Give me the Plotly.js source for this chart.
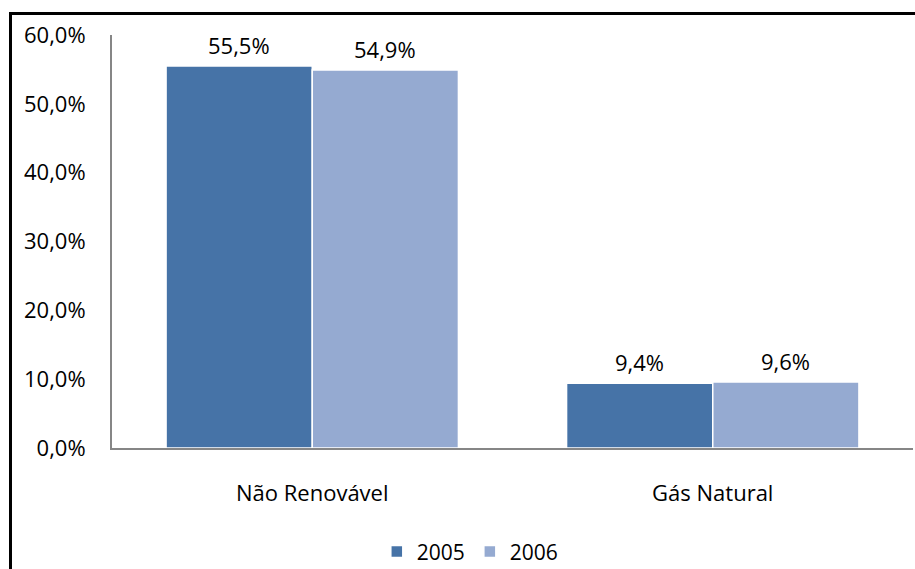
<!DOCTYPE html>
<html>
<head>
<meta charset="utf-8">
<script src="https://cdn.plot.ly/plotly-3.0.1.min.js"></script>
<style>
html,body{margin:0;padding:0;background:#fff;}
#wrap{position:relative;width:915px;height:569px;overflow:hidden;}
#chart{position:absolute;left:0;top:0;width:915px;height:569px;}
#frame{position:absolute;left:9px;top:12px;width:920px;height:570px;border-left:3px solid #000;border-top:3px solid #000;pointer-events:none;}
</style>
</head>
<body>
<div id="wrap"><div id="chart"></div><div id="frame"></div></div>
<script>
const categories = ['Não Renovável', 'Gás Natural'];
const values2005 = [55.5, 9.4];
const values2006 = [54.9, 9.6];
const seriesNames = ['2005', '2006'];
const yTickVals = [0, 10, 20, 30, 40, 50, 60];

const fmt = v => v.toFixed(1).replace('.', ',') + '%';
const font = {family: 'Open Sans, DejaVu Sans, sans-serif', size: 22, color: '#000'};
const legendFont = {family: 'Open Sans, DejaVu Sans, sans-serif', size: 21, color: '#000'};
const colors = ['#4673A7', '#95AAD1'];
const seriesValues = [values2005, values2006];

const traces = seriesValues.map((vals, i) => ({
  type: 'bar', name: seriesNames[i], x: categories, y: vals,
  marker: {color: colors[i], line: {color: '#fff', width: 1.5}},
  hoverinfo: 'none'
}));

const annotations = [];
seriesValues.forEach((vals, i) => {
  vals.forEach((v, j) => {
    annotations.push({x: categories[j], y: v, xref: 'x', yref: 'y',
      text: fmt(v), showarrow: false, font: font,
      xshift: i === 0 ? -73 : 73, yshift: 21, yanchor: 'middle'});
  });
});

const layout = {
  width: 915, height: 569,
  margin: {l: 112, r: 2, t: 35, b: 121},
  paper_bgcolor: '#fff', plot_bgcolor: '#fff',
  font: font,
  separators: ',.',
  barmode: 'group',
  bargap: 0.27, bargroupgap: 0,
  showlegend: true,
  legend: {orientation: 'h', xref: 'container', yref: 'container',
           x: 0.514, xanchor: 'center', y: 0.03, yanchor: 'middle',
           font: legendFont, traceorder: 'normal', itemwidth: 30},
  annotations: annotations,
  xaxis: {showgrid: false, showline: true, linecolor: '#868686', linewidth: 2,
          ticks: '', tickfont: font, zeroline: false, ticklabelstandoff: 25, automargin: false},
  yaxis: {range: [0, 60], tickvals: yTickVals, ticktext: yTickVals.map(fmt),
          showgrid: false, showline: true, linecolor: '#868686', linewidth: 2,
          ticks: '', ticklen: 0, tickfont: font, zeroline: false, automargin: false,
          ticklabelstandoff: 20}
};

Plotly.newPlot('chart', traces, layout, {displayModeBar: false, staticPlot: true});
</script>
</body>
</html>
